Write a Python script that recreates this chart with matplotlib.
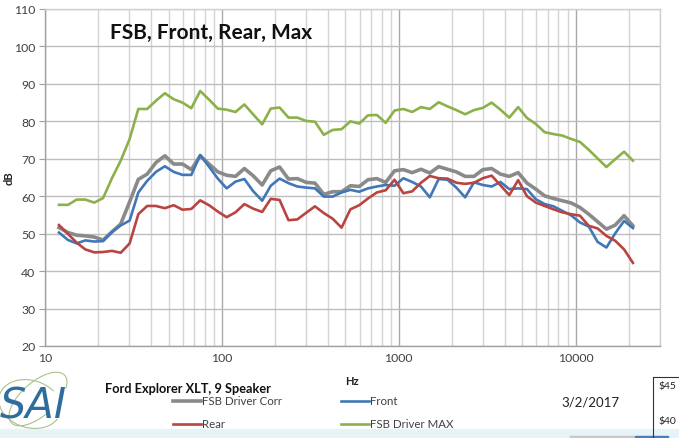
import matplotlib
matplotlib.use("Agg")
import matplotlib.pyplot as plt
from matplotlib.lines import Line2D
from matplotlib.patches import Rectangle, Arc
from matplotlib.ticker import FixedLocator, NullFormatter

plt.rcParams['font.family'] = ['Lato', 'DejaVu Sans']

freq = [12.0, 13.5, 15.1, 16.9, 19.0, 21.3, 23.9, 26.8, 30.1, 33.7,
        37.8, 42.4, 47.6, 53.4, 59.9, 67.2, 75.4, 84.6, 94.9, 106.4,
        119.4, 134, 150, 169, 189, 212, 238, 267, 300, 336,
        377, 423, 475, 533, 598, 670, 752, 844, 947, 1062,
        1191, 1336, 1499, 1682, 1887, 2117, 2374, 2664, 2988, 3352,
        3760, 4218, 4732, 5309, 5955, 6681, 7494, 8407, 9431, 10580,
        11868, 13314, 14935, 16755, 18795, 21085]

fsb_corr = [51.6, 50.3, 49.6, 49.4, 49.1, 48.3, 50.5, 52.6, 58.5, 64.5,
            65.9, 69.0, 70.8, 68.6, 68.6, 67.1, 70.8, 68.6, 66.5, 65.6,
            65.3, 67.4, 65.5, 63.0, 66.8, 67.8, 64.6, 64.7, 63.7, 63.5,
            60.5, 61.2, 61.2, 62.8, 62.6, 64.4, 64.7, 63.7, 66.8, 67.1,
            66.3, 67.2, 66.2, 67.9, 67.2, 66.5, 65.3, 65.3, 67.1, 67.4,
            65.9, 65.3, 66.3, 63.5, 61.9, 60.1, 59.4, 58.8, 58.2, 57.0,
            55.2, 53.2, 51.2, 52.3, 54.8, 52.1]

front = [50.3, 48.3, 47.4, 48.2, 47.9, 48.0, 50.4, 52.2, 53.5, 61.0,
         64.1, 66.5, 68.0, 66.5, 65.7, 65.7, 71.0, 67.9, 64.7, 62.1,
         63.9, 64.6, 61.4, 58.8, 62.8, 64.7, 63.5, 62.6, 62.3, 62.1,
         59.9, 59.9, 61.0, 61.7, 61.2, 62.1, 62.6, 63.0, 62.8, 64.8,
         63.8, 62.6, 59.7, 64.6, 64.4, 62.3, 59.7, 63.7, 63.0, 62.6,
         63.8, 61.9, 62.1, 61.9, 59.2, 57.9, 57.3, 56.1, 54.9, 53.0,
         51.9, 47.8, 46.3, 50.1, 53.4, 51.5]

rear = [52.3, 49.9, 47.6, 45.8, 45.0, 45.1, 45.4, 44.9, 47.4, 55.2,
        57.4, 57.4, 56.8, 57.6, 56.4, 56.6, 58.9, 57.6, 55.9, 54.4,
        55.7, 57.9, 56.7, 55.8, 59.3, 59.0, 53.6, 53.8, 55.6, 57.3,
        55.5, 54.0, 51.6, 56.5, 57.6, 59.4, 61.0, 61.6, 64.4, 60.8,
        61.3, 63.6, 65.4, 64.8, 64.7, 63.6, 63.3, 63.6, 64.8, 65.5,
        62.9, 60.3, 64.3, 60.0, 58.3, 57.4, 56.5, 55.7, 55.2, 54.8,
        52.1, 51.4, 49.4, 48.1, 45.8, 42.2]

fsb_max = [57.7, 57.7, 59.1, 59.1, 58.3, 59.5, 64.8, 69.5, 75.3, 83.3,
           83.3, 85.5, 87.5, 85.9, 85.0, 83.5, 88.1, 85.8, 83.4, 83.1,
           82.5, 84.5, 81.9, 79.2, 83.4, 83.7, 81.0, 81.0, 80.1, 79.9,
           76.4, 77.7, 77.9, 80.0, 79.4, 81.6, 81.7, 79.6, 82.9, 83.3,
           82.5, 83.8, 83.3, 85.1, 84.0, 83.0, 81.9, 83.0, 83.6, 85.0,
           83.1, 81.0, 83.8, 80.9, 79.3, 77.1, 76.6, 76.2, 75.3, 74.5,
           72.4, 70.1, 67.8, 69.9, 71.9, 69.5]

series_labels = ["FSB Driver Corr", "Front", "Rear", "FSB Driver MAX"]
series_colors = ["#8a8a8a", "#4077b8", "#b94441", "#8db14a"]
series_widths = [2.6, 1.9, 1.9, 1.9]

yticks = [20, 30, 40, 50, 60, 70, 80, 90, 100, 110]
xticks = [10, 100, 1000, 10000]
xtick_labels = ["10", "100", "1000", "10000"]

title = "FSB, Front, Rear, Max"
subtitle = "Ford Explorer XLT, 9 Speaker"
date_text = "3/2/2017"

W, H = 679, 439
fig = plt.figure(figsize=(W / 100, H / 100), dpi=100)
ax = fig.add_axes([45 / W, 1 - 347 / H, (660 - 45) / W, (347 - 10) / H])

ax.set_xscale('log')
ax.set_xlim(10, 30000)
ax.set_ylim(20, 110)

# grid
ax.xaxis.set_major_locator(FixedLocator(xticks))
minors = [m * 10 ** e for e in range(1, 5) for m in range(2, 10) if m * 10 ** e <= 30000]
ax.xaxis.set_minor_locator(FixedLocator(minors))
ax.xaxis.set_minor_formatter(NullFormatter())
ax.set_xticklabels(xtick_labels)
ax.set_yticks(yticks)
ax.grid(True, which='major', axis='x', color='#a9a9a9', lw=1.0)
ax.grid(True, which='minor', axis='x', color='#d4d4d4', lw=1.0)
ax.grid(True, which='major', axis='y', color='#bdbdbd', lw=1.0)
ax.set_axisbelow(True)

for s in ['top', 'right']:
    ax.spines[s].set_color('#d0d0d0')
    ax.spines[s].set_linewidth(1.0)
for s in ['left', 'bottom']:
    ax.spines[s].set_color('#a0a0a0')
    ax.spines[s].set_linewidth(1.0)

ax.tick_params(axis='both', which='major', labelsize=8.8, labelcolor='#404040',
               color='#a0a0a0', length=4)
ax.tick_params(axis='x', which='minor', length=0)
ax.tick_params(axis='x', which='major', length=0, pad=4)
ax.tick_params(axis='y', pad=3)

for vals, c, lw in zip([fsb_corr, front, rear, fsb_max], series_colors, series_widths):
    ax.plot(freq, vals, color=c, lw=lw, solid_joinstyle='round', zorder=3)

ax.text(110 / W, 1 - 33 / H, title, transform=fig.transFigure, fontsize=15,
        fontweight='bold', color='#111111', va='center', ha='left')

fig.text(9 / W, 1 - 178 / H, "dB", rotation=90, fontsize=8, fontweight='bold',
         va='center', ha='center', color='#222222')
fig.text(352 / W, 1 - 382 / H, "Hz", fontsize=8, fontweight='bold',
         va='center', ha='center', color='#222222')
fig.text(105 / W, 1 - 389 / H, subtitle, fontsize=9.2, fontweight='bold',
         va='center', ha='left', color='#111111')
fig.text(561 / W, 1 - 403 / H, date_text, fontsize=9.5, va='center', ha='left',
         color='#222222')

# legend (manual, 2 columns)
leg_pos = [(173, 402), (341, 402), (173, 425), (341, 425)]
for (lx, ly), lab, c, lw in zip(leg_pos, series_labels, series_colors, series_widths):
    fig.add_artist(Line2D([lx / W, (lx + 28) / W], [1 - ly / H, 1 - ly / H],
                          color=c, lw=lw, transform=fig.transFigure))
    fig.text((lx + 29) / W, 1 - ly / H, lab, fontsize=8.3, va='center', ha='left',
             color='#404040')

# logo approximation
fig.add_artist(Arc((30 / W, 1 - 405 / H), 60 / W, 50 / H, angle=20, theta1=20,
                   theta2=300, color='#a9c28a', lw=0.8, transform=fig.transFigure))
fig.add_artist(Arc((38 / W, 1 - 400 / H), 40 / W, 60 / H, angle=-30, theta1=60,
                   theta2=330, color='#a9c28a', lw=0.8, transform=fig.transFigure))
fig.text(0 / W, 1 - 407 / H, "SAI", fontsize=30, style='italic', color='#2f6e9c',
         va='center', ha='left', family=['DejaVu Sans'])

# right side box
fig.add_artist(Line2D([653 / W, 653 / W], [0, 1 - 378 / H], color='#333333', lw=0.8,
                      transform=fig.transFigure))
fig.add_artist(Line2D([653 / W, 1], [1 - 378 / H, 1 - 378 / H], color='#333333', lw=0.8,
                      transform=fig.transFigure))
fig.text(659 / W, 1 - 387 / H, "$45", fontsize=7.5, va='center', ha='left', color='#222222')
fig.text(659 / W, 1 - 422 / H, "$40", fontsize=7.5, va='center', ha='left', color='#222222')

# bottom strip
fig.add_artist(Rectangle((0, 0), 1, 9 / H, transform=fig.transFigure,
                         color='#e6f3f7', zorder=0))
fig.add_artist(Rectangle((570 / W, 0), 65 / W, 2 / H, transform=fig.transFigure,
                         color='#c8c8c8', zorder=1))
fig.add_artist(Rectangle((635 / W, 0), 33 / W, 2 / H, transform=fig.transFigure,
                         color='#4a7ebb', zorder=1))

fig.savefig("out.png", dpi=100)
